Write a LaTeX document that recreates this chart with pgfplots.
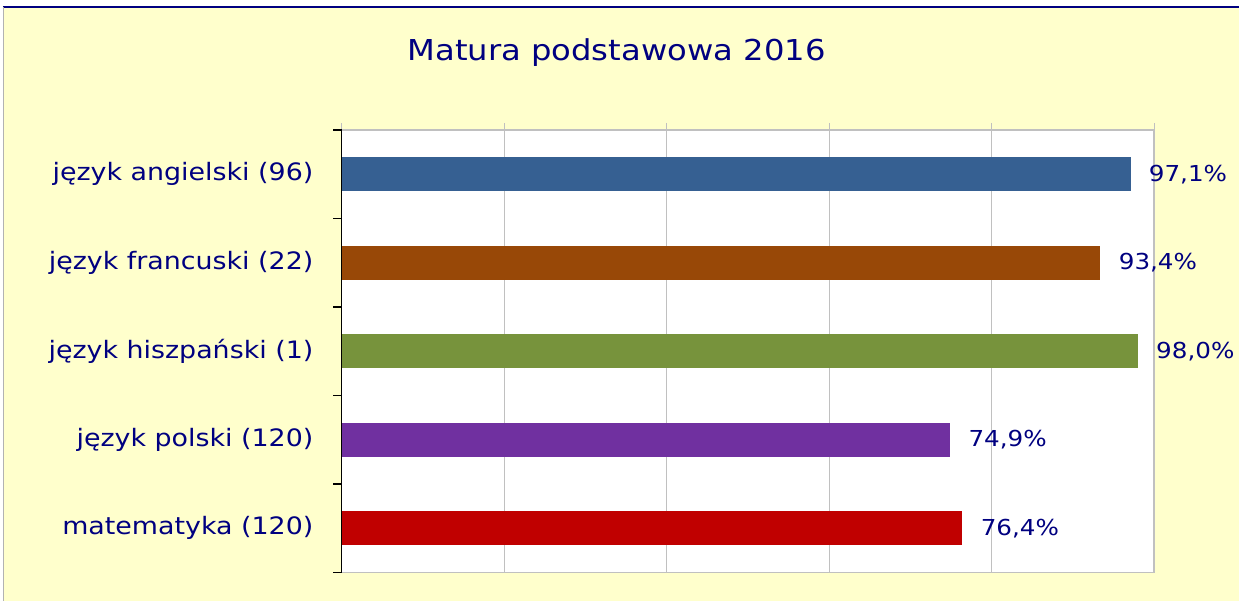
\documentclass[border=0pt]{standalone}
\usepackage{pgfplots}
\pgfplotsset{compat=1.18}
\usepackage{fontspec}
\setmainfont{DejaVu Sans}[FakeStretch=1.12]
\definecolor{bg}{HTML}{FFFFCC}
\definecolor{txt}{HTML}{000080}
\definecolor{c1}{HTML}{366092}
\definecolor{c2}{HTML}{984807}
\definecolor{c3}{HTML}{77933C}
\definecolor{c4}{HTML}{7030A0}
\definecolor{c5}{HTML}{C00000}
\definecolor{gridc}{HTML}{C0C0C0}
\begin{document}
\begin{tikzpicture}[x=1pt,y=1pt]
\fill[white] (0,0) rectangle (620,300.5);
\fill[bg] (1.5,0) rectangle (620,297);
\draw[txt, line width=1pt] (1.5,297.2) -- (620,297.2);
\draw[gray!60, line width=0.5pt] (1.75,0) -- (1.75,297);
\node[font=\fontsize{14.4}{16}\selectfont, text=txt] at (308.5,274) {Matura podstawowa 2016};
\begin{axis}[at={(171pt,14pt)}, anchor=south west, width=406.5pt, height=221.5pt, scale only axis,
 xbar, xmin=0, xmax=100, ymin=-0.5, ymax=4.5,
 axis background/.style={fill=white},
 axis line style={gridc, line width=0.75pt},
 xtick={0,20,...,100}, xticklabels={}, xtick pos=right, tick align=outside, major tick length=3.5pt,
 xtick style={gridc, line width=0.5pt},
 xmajorgrids, grid style={gridc, line width=0.5pt},
 ytick={0,1,2,3,4},
 yticklabels={matematyka (120), język polski (120), język hiszpański (1), język francuski (22), język angielski (96)},
 ytick style={draw=none},
 yticklabel style={font=\fontsize{12}{14}\selectfont, text=txt, inner sep=0pt, xshift=-10.5pt},
 bar width=17pt,
 nodes near coords={\pgfmathprintnumber{\pgfplotspointmeta}\%},
 nodes near coords style={font=\fontsize{11}{13}\selectfont, text=txt, anchor=west, inner sep=0pt, xshift=9pt,
   /pgf/number format/.cd, fixed, fixed zerofill, precision=1, use comma, assume math mode=true},
 clip=false,
]
\addplot[fill=c1, draw=none, bar shift=0pt] coordinates {(97.1,4)};
\addplot[fill=c2, draw=none, bar shift=0pt] coordinates {(93.4,3)};
\addplot[fill=c3, draw=none, bar shift=0pt] coordinates {(98.0,2)};
\addplot[fill=c4, draw=none, bar shift=0pt] coordinates {(74.9,1)};
\addplot[fill=c5, draw=none, bar shift=0pt] coordinates {(76.4,0)};
\draw[black, line width=0.75pt] (rel axis cs:0,0) -- (rel axis cs:0,1);
\pgfplotsinvokeforeach{-0.5,0.5,1.5,2.5,3.5,4.5}{
  \draw[black, line width=0.6pt] (axis cs:0,#1) -- ++(-4.5pt,0pt);
}
\end{axis}
\end{tikzpicture}
\end{document}
